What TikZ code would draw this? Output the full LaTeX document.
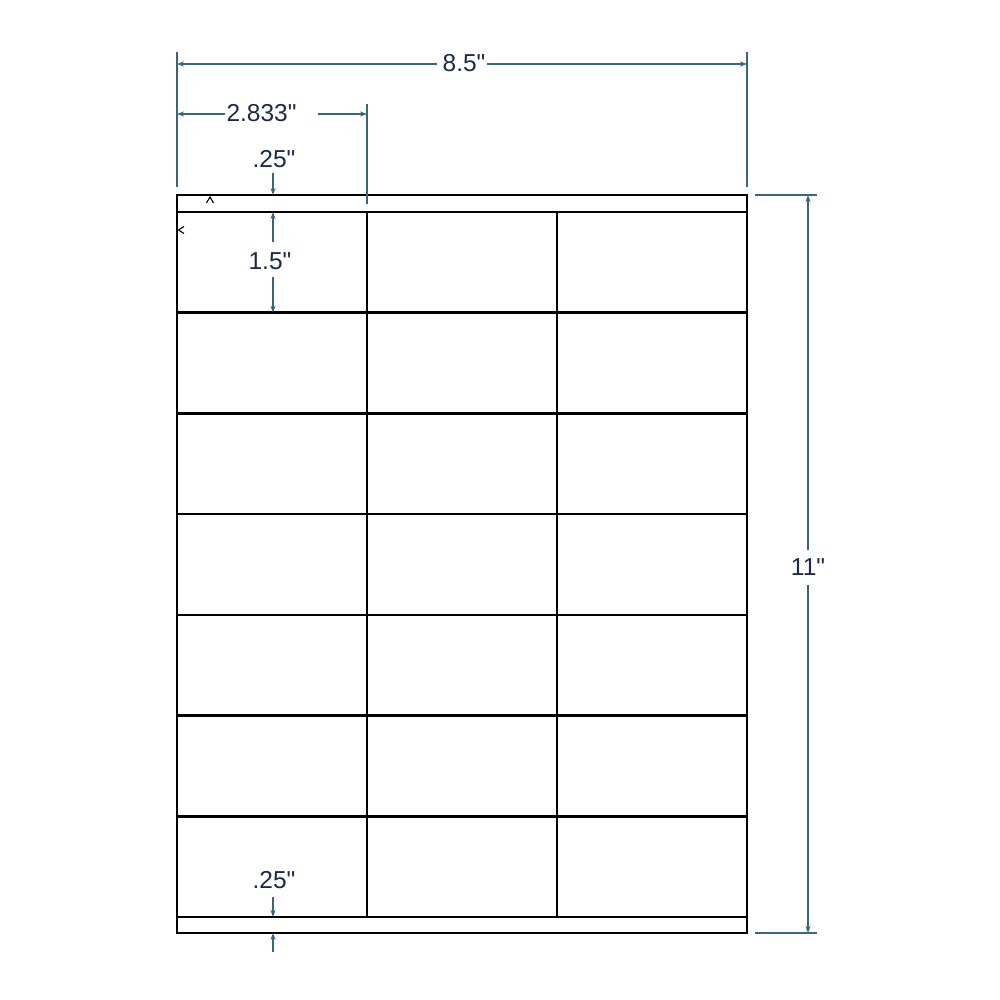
\documentclass[tikz,border=0pt]{standalone}
\usepackage{fontspec}
\setmainfont{Liberation Sans}[Ligatures=TeXOff]
\usetikzlibrary{arrows.meta}
\definecolor{dimtext}{HTML}{1B2A47}
\definecolor{dimline}{HTML}{3B6579}
\tikzset{
  sheet/.style={draw=black, line width=2.6pt},
  dimln/.style={draw=dimline, line width=1.3pt},
  dimarr/.style={dimln, -{Stealth[length=7pt,width=5pt]}},
  dimlbl/.style={text=dimtext, font=\fontsize{24.5}{24.5}\selectfont, inner sep=0pt},
  tick/.style={draw=black, line width=1.1pt}
}
\begin{document}
\begin{tikzpicture}[x=1pt,y=-1pt]
\useasboundingbox (0,0) rectangle (1000,1000);
\fill[white] (0,0) rectangle (1000,1000);

% sheet grid
\draw[sheet] (177,195) rectangle (747,933);
\foreach \yy in {212,312.7,413.4,514.1,614.8,715.5,816.2,917}
  \draw[sheet] (177,\yy) -- (747,\yy);
\foreach \xx in {367,557}
  \draw[sheet] (\xx,212) -- (\xx,917);

% small ticks
\draw[tick] (206.5,203) -- (210,197) -- (213.5,203);
\draw[tick] (184,226.5) -- (178.5,230) -- (184,233.5);

% 8.5" width
\coordinate (eL1) at (177,52); \coordinate (eL2) at (177,187);
\coordinate (eR1) at (747,52); \coordinate (eR2) at (747,187);
\draw[dimln] (eL1) -- (eL2);
\draw[dimln] (eR1) -- (eR2);
\node[dimlbl] (t85) at (464,63) {8.5"};
\coordinate (a85l) at (437,64); \coordinate (a85r) at (487,64);
\coordinate (w85l) at (177,64); \coordinate (w85r) at (747,64);
\draw[dimarr] (a85l) -- (w85l);
\draw[dimarr] (a85r) -- (w85r);

% 2.833" column width
\coordinate (eC1) at (367,104); \coordinate (eC2) at (367,204);
\draw[dimln] (eC1) -- (eC2);
\node[dimlbl] (t2833) at (261.5,113) {2.833"};
\coordinate (a28l) at (225,114); \coordinate (a28r) at (318,114);
\coordinate (w28l) at (177,114); \coordinate (w28r) at (367,114);
\draw[dimarr] (a28l) -- (w28l);
\draw[dimarr] (a28r) -- (w28r);

% top .25" margin
\node[dimlbl] (t25a) at (274,159) {.25"};
\coordinate (m1a) at (273,173); \coordinate (m1b) at (273,195);
\draw[dimarr] (m1a) -- (m1b);

% 1.5" label height
\node[dimlbl] (t15) at (270,261) {1.5"};
\coordinate (h1) at (273,242); \coordinate (h1t) at (273,212);
\coordinate (h2) at (273,277); \coordinate (h2b) at (273,312.7);
\draw[dimarr] (h1) -- (h1t);
\draw[dimarr] (h2) -- (h2b);

% bottom .25" margin
\node[dimlbl] (t25b) at (274,880) {.25"};
\coordinate (m2a) at (273,897); \coordinate (m2b) at (273,917);
\coordinate (m3a) at (273,952); \coordinate (m3b) at (273,933);
\draw[dimarr] (m2a) -- (m2b);
\draw[dimarr] (m3a) -- (m3b);

% 11" height
\coordinate (eT1) at (755,195); \coordinate (eT2) at (817,195);
\coordinate (eB1) at (755,933); \coordinate (eB2) at (817,933);
\draw[dimln] (eT1) -- (eT2);
\draw[dimln] (eB1) -- (eB2);
\node[dimlbl] (t11) at (808,567) {11"};
\coordinate (v1) at (808,550); \coordinate (v1t) at (808,195);
\coordinate (v2) at (808,585); \coordinate (v2b) at (808,933);
\draw[dimarr] (v1) -- (v1t);
\draw[dimarr] (v2) -- (v2b);
\end{tikzpicture}
\end{document}
